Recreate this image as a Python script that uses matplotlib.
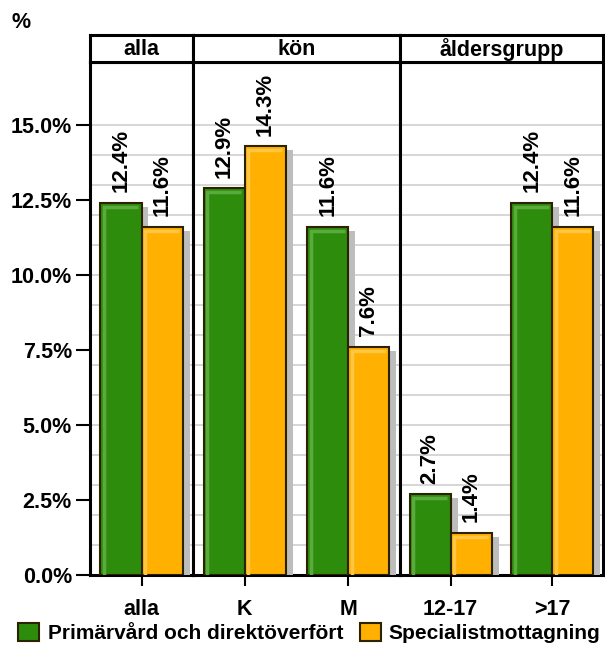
import matplotlib
matplotlib.use("Agg")
import matplotlib.pyplot as plt
import matplotlib.patheffects as pe
import matplotlib.transforms as mtransforms
from matplotlib.patches import Rectangle
import numpy as np

plt.rcParams['font.family'] = ['Liberation Sans', 'DejaVu Sans']
plt.rcParams['font.weight'] = 'bold'

groups = ["alla", "kön", "åldersgrupp"]
group_cats = [["alla"], ["K", "M"], ["12-17", ">17"]]
primar = [[12.4], [12.9, 11.6], [2.7, 12.4]]
special = [[11.6], [14.3, 7.6], [1.4, 11.6]]
series_names = ["Primärvård och direktöverfört", "Specialistmottagning"]
yticks = [0, 2.5, 5, 7.5, 10, 12.5, 15]

green = "#2e8c0c"
green_hi = "#5aab3e"
orange = "#ffb000"
orange_hi = "#ffc646"
edge = "#2b2200"

W, H = 605, 645
fig = plt.figure(figsize=(W/100, H/100), dpi=100)

left, right = 90, 603
bottom, top = 575, 62
strip_top = 35
widths = [103, 207, 203]
ymax = 15 + (125 - 62) / 30.0

x0 = left
for gi, g in enumerate(groups):
    w = widths[gi]
    ax = fig.add_axes([x0 / W, (H - bottom) / H, w / W, (bottom - top) / H])
    n = len(group_cats[gi])
    pos = np.arange(n)
    ppu = w / n  # pixels per x data unit
    bw = 0.4 * 103 / ppu
    shadow = [pe.SimplePatchShadow(offset=(5, -3), shadow_rgbFace='#bdbdbd', alpha=1.0), pe.Normal()]
    b1 = ax.bar(pos - bw / 2, primar[gi], width=bw, color=green, edgecolor=edge, linewidth=1.5, zorder=3)
    b2 = ax.bar(pos + bw / 2, special[gi], width=bw, color=orange, edgecolor=edge, linewidth=1.5, zorder=3)
    off = mtransforms.offset_copy(ax.transData, fig=fig, x=3.5, y=-3.5, units='dots')
    for bars, vals, hi in ((b1, primar[gi], green_hi), (b2, special[gi], orange_hi)):
        for r, v in zip(bars, vals):
            r.set_path_effects(shadow)
            xl = r.get_x()
            xr = r.get_x() + r.get_width() - 7.0 / ppu
            ax.plot([xl, xl, xr], [0.12, v, v], color=hi, lw=2.5,
                    transform=off, zorder=4, solid_capstyle='butt', solid_joinstyle='miter')
            ax.text(r.get_x() + r.get_width() / 2, v + 0.35, f"{v:.1f}%", rotation=90,
                    ha='center', va='bottom', fontsize=16, fontweight='bold')
    ax.set_xlim(-0.5, n - 0.5)
    ax.set_ylim(0, ymax)
    ax.set_xticks(pos)
    ax.set_xticklabels(group_cats[gi], fontsize=15.5, fontweight='bold')
    ax.tick_params(axis='x', length=8, width=1.5, pad=9)
    for yv in np.arange(0, 16, 1):
        ax.axhline(yv, color='#d0d0d0', linewidth=1.2, zorder=0)
    for s in ax.spines.values():
        s.set_linewidth(2.2)
    if gi == 0:
        ax.set_yticks(yticks)
        ax.set_yticklabels([f"{v:.1f}%" for v in yticks], fontsize=15.5, fontweight='bold')
        ax.tick_params(axis='y', length=10, width=1.5, pad=3)
    else:
        ax.set_yticks([])
    sax = fig.add_axes([x0 / W, (H - top) / H, w / W, (top - strip_top) / H])
    sax.set_xticks([]); sax.set_yticks([])
    for s in sax.spines.values():
        s.set_linewidth(2.2)
    sax.text(0.5, 0.45, g, ha='center', va='center', fontsize=15.5, fontweight='bold', transform=sax.transAxes)
    x0 += w

fig.text(12 / W, 1 - 22 / H, "%", fontsize=15.5, fontweight='bold', ha='left', va='center')

handles = [Rectangle((0, 0), 1, 1, facecolor=green, edgecolor=edge, linewidth=1.5),
           Rectangle((0, 0), 1, 1, facecolor=orange, edgecolor=edge, linewidth=1.5)]
fig.legend(handles, series_names, loc='center', bbox_to_anchor=(0.5 + 7 / W, 1 - 633 / H), ncol=2,
           frameon=False, fontsize=15, handlelength=1.0, handleheight=1.0, handletextpad=0.4,
           columnspacing=0.8, borderpad=0, borderaxespad=0)

fig.savefig("out.png", dpi=100)
